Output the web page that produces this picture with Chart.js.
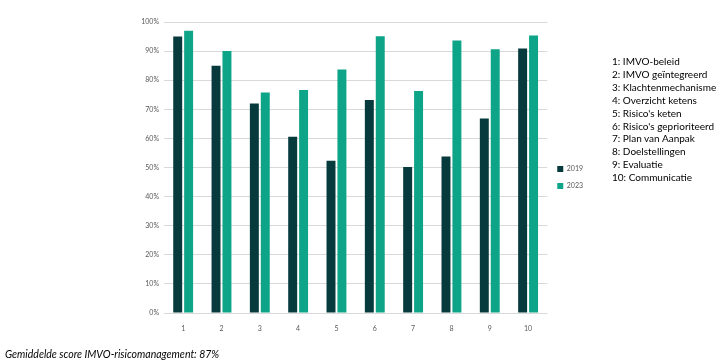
<!DOCTYPE html>
<html>
<head>
<meta charset="utf-8">
<script src="https://cdn.jsdelivr.net/npm/chart.js@4"></script>
<style>
  html, body { margin: 0; padding: 0; background: #fff; }
  #wrap { position: relative; width: 720px; height: 362px; overflow: hidden; }
  #chart { position: absolute; left: 0; top: 0; }
  #items { position: absolute; left: 612px; top: 55px; font-family: Lato, sans-serif; font-size: 10px; line-height: 12.9px; color: #000; white-space: nowrap; }
  #caption { position: absolute; left: 5px; top: 348px; font-family: Lato, sans-serif; font-style: italic; font-size: 10.5px; color: #000; white-space: nowrap; }
</style>
</head>
<body>
<div id="wrap">
  <canvas id="chart" width="720" height="362"></canvas>
  <div id="items"></div>
  <div id="caption">Gemiddelde score IMVO-risicomanagement: 87%</div>
</div>
<script>
/* ===== Data ===== */
const categories = ['1', '2', '3', '4', '5', '6', '7', '8', '9', '10'];
const itemNames = [
    'IMVO-beleid', 'IMVO geïntegreerd', 'Klachtenmechanisme', 'Overzicht ketens',
    "Risico's keten", "Risico's geprioriteerd", 'Plan van Aanpak', 'Doelstellingen',
    'Evaluatie', 'Communicatie'
];
const values2019 = [95, 85, 72, 60.6, 52.3, 73.2, 50.2, 53.8, 66.8, 90.9];
const values2023 = [97, 90, 75.8, 76.6, 83.7, 95.1, 76.3, 93.6, 90.6, 95.4];
const yTicks = [0, 10, 20, 30, 40, 50, 60, 70, 80, 90, 100];

/* ===== Item list on the right ===== */
document.getElementById('items').innerHTML =
    itemNames.map((n, i) => categories[i] + ': ' + n).join('<br>');

Chart.defaults.font.family = "Lato, sans-serif";
Chart.defaults.color = '#595959';

const tickFont = { size: 7 };

new Chart(document.getElementById('chart'), {
    type: 'bar',
    data: {
        labels: categories,
        datasets: [
            { label: '2019', data: values2019, backgroundColor: '#063a3c' },
            { label: '2023', data: values2023, backgroundColor: '#0da487' }
        ]
    },
    options: {
        responsive: false,
        animation: false,
        categoryPercentage: 0.57,
        barPercentage: 0.82,
        layout: { padding: { left: 134, right: 127, top: 22, bottom: 29 } },
        plugins: {
            legend: {
                position: 'right',
                labels: { boxWidth: 6, boxHeight: 6, padding: 10, font: { size: 7 }, color: '#595959' }
            },
            tooltip: { enabled: false }
        },
        scales: {
            x: {
                grid: { display: false },
                border: { display: false },
                ticks: { font: tickFont, padding: 4 },
                afterFit: s => { s.height = 20; }
            },
            y: {
                min: 0, max: 100,
                afterBuildTicks: s => { s.ticks = yTicks.map(v => ({ value: v })); },
                grid: { color: '#d9d9d9', lineWidth: 1, tickLength: 0 },
                border: { display: false },
                ticks: { font: tickFont, padding: 5, callback: v => v + '%' },
                afterFit: s => { s.width = 30; }
            }
        }
    }
});
</script>
</body>
</html>
